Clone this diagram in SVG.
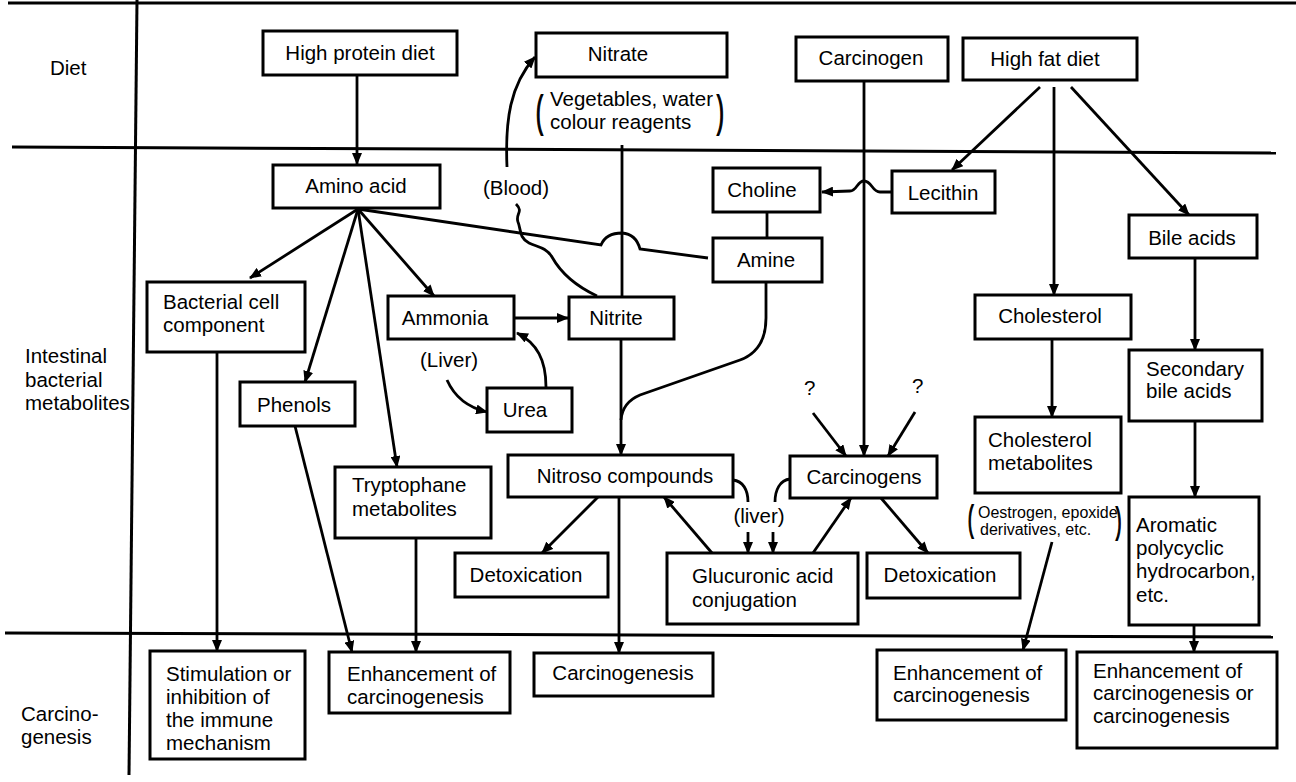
<svg xmlns="http://www.w3.org/2000/svg" width="1296" height="782" viewBox="0 0 1296 782">
<style>
.box{fill:#fff;stroke:#000;stroke-width:3}
.t{font-family:"Liberation Sans",Arial,sans-serif;font-size:20.5px;fill:#000}
.s{font-family:"Liberation Sans",Arial,sans-serif;font-size:16px;fill:#000}
.p{stroke:#000;stroke-width:0.9}
.c{text-anchor:middle}
.ln{fill:none;stroke:#000;stroke-width:2.8}
.grid{fill:none;stroke:#000;stroke-width:3}
</style>
<defs>
<marker id="a" markerUnits="userSpaceOnUse" markerWidth="12" markerHeight="10" refX="11" refY="5" orient="auto">
<path d="M0,0 L12,5 L0,10 z" fill="#000"/>
</marker>
</defs>
<rect width="1296" height="782" fill="#fff"/>
<g id="grid">
<line class="grid" x1="8" y1="3" x2="1296" y2="3"/>
<line class="grid" x1="12" y1="147" x2="1276" y2="153"/>
<line class="grid" x1="5" y1="633" x2="1273" y2="637"/>
<line class="grid" x1="137" y1="0" x2="129" y2="775"/>
</g>
<g id="row-labels">
<text class="t" x="50" y="75">Diet</text>
<text class="t" x="25" y="363">Intestinal</text>
<text class="t" x="25" y="387">bacterial</text>
<text class="t" x="25" y="410">metabolites</text>
<text class="t" x="21" y="721">Carcino-</text>
<text class="t" x="21" y="744">genesis</text>
</g>
<g id="connectors">
<path class="ln" d="M357,75 L357,164" marker-end="url(#a)"/>
<path class="ln" d="M507,167 C505,120 510,85 535,57" marker-end="url(#a)"/>
<path class="ln" d="M597,296 C580,288 562,275 552,257 C546,247 537,247 529,243 C519,238 521,229 518,222 C515,214 524,212 516,204"/>
<path class="ln" d="M622,145 L622,297"/>
<path class="ln" d="M358,209 L601,245 Q606,233 622,233 Q636,234 640,249 L708,258"/>
<path class="ln" stroke-width="3" d="M358,209 L250,278" marker-end="url(#a)"/>
<path class="ln" stroke-width="3" d="M358,209 L305,382" marker-end="url(#a)"/>
<path class="ln" d="M358,209 L397,467" marker-end="url(#a)"/>
<path class="ln" stroke-width="3" d="M358,209 L434,296" marker-end="url(#a)"/>
<path class="ln" d="M514,318 L568,318" marker-end="url(#a)"/>
<path class="ln" d="M447,380 C455,398 470,408 487,412" marker-end="url(#a)"/>
<path class="ln" d="M546,387 C546,360 537,343 517,333" marker-end="url(#a)"/>
<path class="ln" stroke-width="3" d="M767,212 L767,238"/>
<path class="ln" d="M892,192 L880,192 C872,192 872,181 864,181 C857,181 857,191 850,191 L822,192" marker-end="url(#a)"/>
<path class="ln" d="M864,81 L864,456" marker-end="url(#a)"/>
<path class="ln" stroke-width="3" d="M1040,87 L952,170" marker-end="url(#a)"/>
<path class="ln" d="M1054,87 L1054,295" marker-end="url(#a)"/>
<path class="ln" stroke-width="3" d="M1071,87 L1189,215" marker-end="url(#a)"/>
<path class="ln" stroke-width="3" d="M1052,339 L1052,417" marker-end="url(#a)"/>
<path class="ln" stroke-width="3" d="M1195,258 L1195,350" marker-end="url(#a)"/>
<path class="ln" stroke-width="3" d="M1195,421 L1195,497" marker-end="url(#a)"/>
<path class="ln" d="M1194,625 L1194,652" marker-end="url(#a)"/>
<path class="ln" d="M1052,542 L1023,650" marker-end="url(#a)"/>
<path class="ln" stroke-width="3" d="M813,413 L846,456" marker-end="url(#a)"/>
<path class="ln" stroke-width="3" d="M915,412 L888,456" marker-end="url(#a)"/>
<path class="ln" stroke-width="3" d="M621,339 L621,455" marker-end="url(#a)"/>
<path class="ln" d="M766,282 L766,318 C766,342 756,354 740,360 L640,395 C628,400 622,408 621,420"/>
<path class="ln" d="M619,497 L619,653" marker-end="url(#a)"/>
<path class="ln" stroke-width="3" d="M598,497 L542,553" marker-end="url(#a)"/>
<path class="ln" stroke-width="3" d="M712,553 L664,497" marker-end="url(#a)"/>
<path class="ln" stroke-width="3" d="M813,553 L851,498" marker-end="url(#a)"/>
<path class="ln" stroke-width="3" d="M881,498 L928,553" marker-end="url(#a)"/>
<path class="ln" d="M733,480 C743,481 748,490 748,502"/>
<path class="ln" d="M790,479 C780,480 775,490 775,502"/>
<path class="ln" stroke-width="3" d="M748,532 L748,553" marker-end="url(#a)"/>
<path class="ln" stroke-width="3" d="M773,532 L773,553" marker-end="url(#a)"/>
<path class="ln" d="M217,352 L217,651" marker-end="url(#a)"/>
<path class="ln" stroke-width="3.5" d="M295,426 L352,652" marker-end="url(#a)"/>
<path class="ln" d="M416,538 L416,652" marker-end="url(#a)"/>
</g>
<g id="annotations">
<text class="t c" x="516" y="195">(Blood)</text>
<text class="t c" x="449" y="367">(Liver)</text>
<text class="t c" x="759" y="523">(liver)</text>
<text class="t" x="804" y="395">?</text>
<text class="t" x="912" y="393">?</text>
<text class="t p" transform="translate(536,126) scale(1,2.05)">(</text>
<text class="t" x="550" y="106">Vegetables, water</text>
<text class="t" x="550" y="129">colour reagents</text>
<text class="t p" transform="translate(717,126) scale(1,2.05)">)</text>
<text class="s p" transform="translate(968,531) scale(1,2.2)">(</text>
<text class="s" x="978" y="518">Oestrogen, epoxide</text>
<text class="s" x="980" y="535">derivatives, etc.</text>
<text class="s p" transform="translate(1116,533) scale(1,2.2)">)</text>
</g>
<g id="n-high-protein"><rect class="box" x="263" y="31" width="194" height="44"/><text class="t c" x="360" y="60">High protein diet</text></g>
<g id="n-nitrate"><rect class="box" x="536" y="33" width="191" height="44"/><text class="t c" x="618" y="61">Nitrate</text></g>
<g id="n-carcinogen"><rect class="box" x="796" y="37" width="152" height="44"/><text class="t c" x="871" y="65">Carcinogen</text></g>
<g id="n-high-fat"><rect class="box" x="963" y="38" width="174" height="42"/><text class="t c" x="1045" y="66">High fat diet</text></g>
<g id="n-amino"><rect class="box" x="273" y="165" width="167" height="43"/><text class="t c" x="356" y="193">Amino acid</text></g>
<g id="n-choline"><rect class="box" x="713" y="168" width="107" height="44"/><text class="t c" x="762" y="197">Choline</text></g>
<g id="n-lecithin"><rect class="box" x="892" y="171" width="103" height="42"/><text class="t c" x="943" y="200">Lecithin</text></g>
<g id="n-amine"><rect class="box" x="713" y="238" width="109" height="44"/><text class="t c" x="766" y="267">Amine</text></g>
<g id="n-bile"><rect class="box" x="1129" y="215" width="128" height="43"/><text class="t c" x="1192" y="245">Bile acids</text></g>
<g id="n-bacterial"><rect class="box" x="147" y="282" width="158" height="70"/><text class="t" x="163" y="309">Bacterial cell</text><text class="t" x="163" y="332">component</text></g>
<g id="n-ammonia"><rect class="box" x="388" y="296" width="126" height="43"/><text class="t c" x="445" y="325">Ammonia</text></g>
<g id="n-nitrite"><rect class="box" x="569" y="297" width="105" height="42"/><text class="t c" x="616" y="325">Nitrite</text></g>
<g id="n-cholesterol"><rect class="box" x="975" y="295" width="156" height="44"/><text class="t c" x="1050" y="323">Cholesterol</text></g>
<g id="n-phenols"><rect class="box" x="240" y="382" width="115" height="44"/><text class="t c" x="294" y="412">Phenols</text></g>
<g id="n-urea"><rect class="box" x="487" y="388" width="85" height="44"/><text class="t c" x="525" y="417">Urea</text></g>
<g id="n-secondary"><rect class="box" x="1129" y="350" width="133" height="71"/><text class="t" x="1146" y="376">Secondary</text><text class="t" x="1146" y="398">bile acids</text></g>
<g id="n-chol-met"><rect class="box" x="975" y="417" width="146" height="76"/><text class="t" x="988" y="447">Cholesterol</text><text class="t" x="988" y="470">metabolites</text></g>
<g id="n-nitroso"><rect class="box" x="508" y="455" width="225" height="42"/><text class="t c" x="625" y="483">Nitroso compounds</text></g>
<g id="n-carcinogens"><rect class="box" x="790" y="456" width="147" height="42"/><text class="t c" x="864" y="484">Carcinogens</text></g>
<g id="n-tryptophane"><rect class="box" x="335" y="467" width="156" height="71"/><text class="t" x="352" y="492">Tryptophane</text><text class="t" x="352" y="516">metabolites</text></g>
<g id="n-detox-left"><rect class="box" x="455" y="553" width="153" height="44"/><text class="t c" x="526" y="582">Detoxication</text></g>
<g id="n-glucuronic"><rect class="box" x="667" y="553" width="191" height="71"/><text class="t" x="692" y="583">Glucuronic acid</text><text class="t" x="692" y="607">conjugation</text></g>
<g id="n-detox-right"><rect class="box" x="867" y="553" width="153" height="45"/><text class="t c" x="940" y="582">Detoxication</text></g>
<g id="n-aromatic"><rect class="box" x="1129" y="497" width="130" height="128"/><text class="t" x="1136" y="532">Aromatic</text><text class="t" x="1136" y="555">polycyclic</text><text class="t" x="1136" y="578">hydrocarbon,</text><text class="t" x="1136" y="602">etc.</text></g>
<g id="n-stimulation"><rect class="box" x="150" y="651" width="155" height="108"/><text class="t" x="166" y="681">Stimulation or</text><text class="t" x="166" y="704">inhibition of</text><text class="t" x="166" y="727">the immune</text><text class="t" x="166" y="750">mechanism</text></g>
<g id="n-enh-left"><rect class="box" x="329" y="652" width="181" height="61"/><text class="t" x="347" y="681">Enhancement of</text><text class="t" x="347" y="704">carcinogenesis</text></g>
<g id="n-carcinogenesis"><rect class="box" x="534" y="653" width="179" height="43"/><text class="t c" x="623" y="680">Carcinogenesis</text></g>
<g id="n-enh-right"><rect class="box" x="877" y="650" width="189" height="70"/><text class="t" x="893" y="680">Enhancement of</text><text class="t" x="893" y="702">carcinogenesis</text></g>
<g id="n-enh-or"><rect class="box" x="1077" y="652" width="200" height="96"/><text class="t" x="1093" y="678">Enhancement of</text><text class="t" x="1093" y="700">carcinogenesis or</text><text class="t" x="1093" y="723">carcinogenesis</text></g>
</svg>
